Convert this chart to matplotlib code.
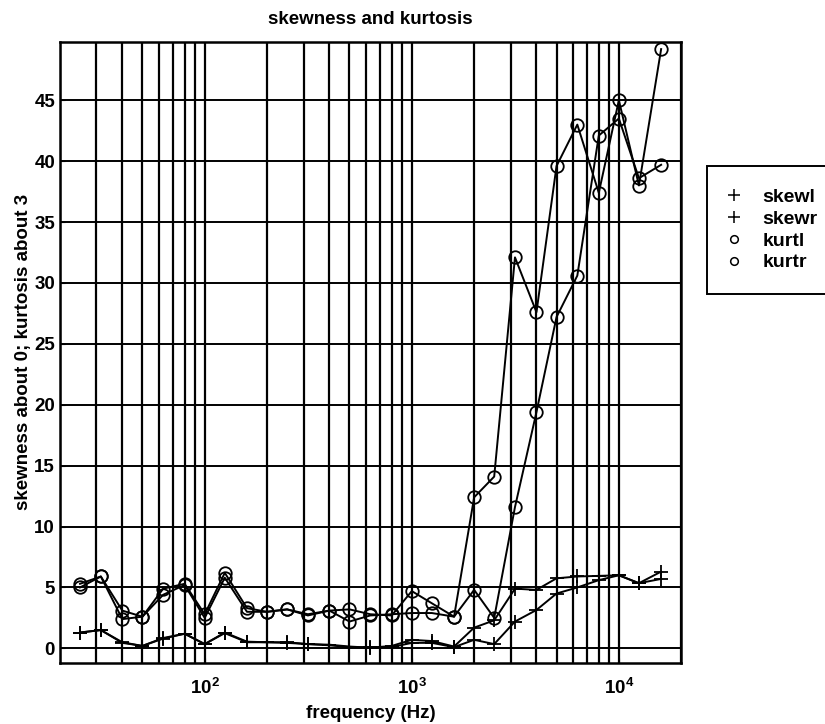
import numpy as np
import matplotlib
matplotlib.use("Agg")
import matplotlib.pyplot as plt
from matplotlib.lines import Line2D
from matplotlib.ticker import LogLocator, NullFormatter

# 1/3 倍频程中心频率
freqs = [25, 31.5, 40, 50, 63, 80, 100, 125, 160, 200, 250, 315, 400, 500,
         630, 800, 1000, 1250, 1600, 2000, 2500, 3150, 4000, 5000, 6300,
         8000, 10000, 12500, 16000]

skewl = [1.3, 1.5, 0.5, 0.2, 0.8, 1.2, 0.35, 1.3, 0.55, 0.5, 0.5, 0.35, 0.3,
         0.15, 0.05, 0.2, 0.7, 0.6, 0.15, 1.7, 2.3, 4.9, 4.8, 5.75, 5.9,
         5.95, 6.0, 5.35, 6.3]
skewr = [1.3, 1.5, 0.45, 0.2, 0.85, 1.2, 0.35, 1.25, 0.5, 0.5, 0.45, 0.35,
         0.25, 0.1, 0.1, 0.1, 0.45, 0.45, 0.1, 0.7, 0.35, 2.2, 3.15, 4.5, 5.0,
         5.6, 6.0, 5.35, 5.7]
kurtl = [5.3, 5.9, 3.1, 2.6, 4.9, 5.3, 2.8, 6.2, 3.3, 3.0, 3.2, 2.7, 3.1,
         3.2, 2.8, 2.7, 4.7, 3.7, 2.6, 12.4, 14.1, 32.1, 27.6, 39.6, 43.0,
         37.4, 45.0, 38.0, 49.2]
kurtr = [5.0, 5.9, 2.4, 2.6, 4.4, 5.2, 2.5, 5.8, 3.0, 3.0, 3.2, 2.8, 3.1,
         2.2, 2.7, 2.8, 2.9, 2.9, 2.6, 4.8, 2.5, 11.6, 19.4, 27.2, 30.6,
         42.1, 43.5, 38.6, 39.7]

series_names = ['skewl', 'skewr', 'kurtl', 'kurtr']
yticks = [0, 5, 10, 15, 20, 25, 30, 35, 40, 45]

plt.rcParams['font.family'] = ['Liberation Sans', 'DejaVu Sans']
plt.rcParams['font.weight'] = 'bold'
plt.rcParams['mathtext.default'] = 'bf'

fig = plt.figure(figsize=(8.25, 7.24), dpi=100)
ax = fig.add_axes([0.0727, 0.0843, 0.753, 0.858])

for vals in (skewl, skewr):
    ax.plot(freqs, vals, color='black', lw=1.4, marker='+', ms=10, mew=1.3)
for vals in (kurtl, kurtr):
    ax.plot(freqs, vals, color='black', lw=1.4, marker='o', ms=9, mew=1.3,
            mfc='none')

ax.set_xscale('log')
ax.set_xlim(20, 20000)
ax.set_ylim(-1.2, 49.8)
ax.set_yticks(yticks)
ax.xaxis.set_major_locator(LogLocator(base=10))
ax.xaxis.set_minor_locator(LogLocator(base=10, subs=np.arange(2, 10)))
ax.xaxis.set_minor_formatter(NullFormatter())

# 网格线：黑色实线
ax.grid(True, which='both', axis='x', color='black', lw=1.6)
ax.grid(True, which='major', axis='y', color='black', lw=1.4)
ax.set_axisbelow(True)

ax.tick_params(which='both', direction='in', labelsize=13.5, colors='black')
ax.tick_params(axis='x', which='major', pad=11)
for lab in ax.get_xticklabels() + ax.get_yticklabels():
    lab.set_fontweight('bold')
for sp in ax.spines.values():
    sp.set_linewidth(1.8)

ax.set_title('skewness and kurtosis', fontsize=13.5, fontweight='bold', pad=13)
ax.set_xlabel('frequency (Hz)', fontsize=13.5, fontweight='bold', labelpad=5)
ax.set_ylabel('skewness about 0; kurtosis about 3', fontsize=13.5,
              fontweight='bold', labelpad=2)

handles = [
    Line2D([], [], ls='none', marker='+', ms=8, mew=1.1, color='black'),
    Line2D([], [], ls='none', marker='+', ms=8, mew=1.1, color='black'),
    Line2D([], [], ls='none', marker='o', ms=5.5, mew=1.1, mfc='none', color='black'),
    Line2D([], [], ls='none', marker='o', ms=5.5, mew=1.1, mfc='none', color='black'),
]
leg = fig.legend(handles, series_names, loc='upper left',
                 bbox_to_anchor=(0.857, 0.771), frameon=True,
                 prop={'size': 14, 'weight': 'bold'},
                 fancybox=False, edgecolor='black', framealpha=1,
                 borderpad=1.15, labelspacing=0.22, handlelength=0.5,
                 handletextpad=1.2, borderaxespad=0)
leg.get_frame().set_linewidth(1.4)

fig.savefig('out.png', dpi=100)
